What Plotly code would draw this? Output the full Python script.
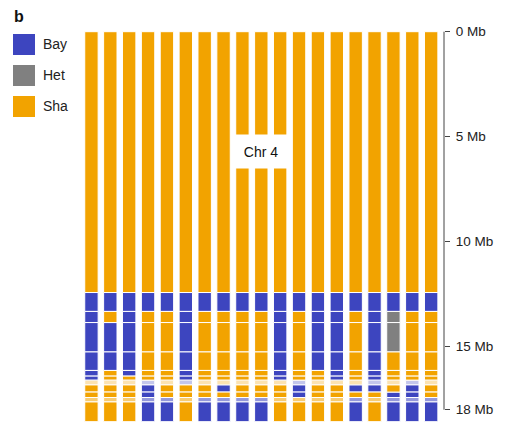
import plotly.graph_objects as go

# ---- data ----
lines = [f"L{i+1}" for i in range(19)]           # 19 individual lines (columns)
boundaries_mb = [0, 12.42, 13.32, 13.85, 15.25, 16.13, 16.40, 16.59, 16.82, 17.16, 17.42, 17.63, 18.57]
# genotype per segment (top to bottom), one character per column: B=Bay, H=Het, S=Sha
seg_genotypes = [
    "SSSSSSSSSSSSSSSSSSS",
    "BBBBBBBBBBBBBBBBBBB",
    "BSBSSBSSSSBSBBSBHSS",
    "BBBSSBSSSSBSBBSBHSS",
    "BBBSSBSSSSBSBBSBSSS",
    "BSBSSBSSSSBSSBSBSSS",
    "BSSSSBSSSSBSSBSBSSS",
    "SSSBSBSSSSSBSSSBSBS",
    "SSSBSSSBSSSBSSBBSBS",
    "SSSBSSSSSSSBSSSSBBS",
    "SSSBBSBBBBSSSSBSBBB",
    "SSSBBSBBBBSSSSBSBBB",
]
seg_opacity = [1, 1, 1, 1, 1, 1, 1, 0.3, 1, 1, 0.55, 1]
genotype_names = {"B": "Bay", "H": "Het", "S": "Sha"}
genotype_colors = {"B": "#3d45bf", "H": "#808080", "S": "#f2a300"}
tick_vals = [0, 5, 10, 15, 18]
tick_text = ["0 Mb", "5 Mb", "10 Mb", "15 Mb", "18 Mb"]
chrom_label = "Chr 4"

FONT = "Liberation Sans, Arial, Helvetica, sans-serif"
W, H = 508, 425
ML, MR, MT, MB = 82, 64, 30, 2
PW, PH = W - ML - MR, H - MT - MB


def px(xp):
    return (xp - ML) / PW


def py(yp):
    return 1 - (yp - MT) / PH


fig = go.Figure()
for g in ["B", "H", "S"]:
    xs, bases, lens, ops = [], [], [], []
    for s, gs in enumerate(seg_genotypes):
        for i, c in enumerate(gs):
            if c == g:
                xs.append(i)
                bases.append(boundaries_mb[s])
                lens.append(boundaries_mb[s + 1] - boundaries_mb[s])
                ops.append(seg_opacity[s])
    fig.add_trace(go.Bar(
        x=xs, y=lens, base=bases, name=genotype_names[g], width=0.71,
        marker=dict(color=genotype_colors[g], opacity=ops,
                    line=dict(color="white", width=1)),
        showlegend=False, hoverinfo="skip"))

shapes = []
# axis line 0 -> 18 Mb
shapes.append(dict(type="line", xref="paper", yref="y", x0=1, x1=1, y0=0, y1=18,
                   line=dict(color="#444444", width=1)))
# legend squares
leg_items = [("B", 34, 55), ("H", 65, 86), ("S", 96, 117)]
annotations = []
for g, y0, y1 in leg_items:
    shapes.append(dict(type="rect", xref="paper", yref="paper",
                       x0=px(13), x1=px(35), y0=py(y1), y1=py(y0),
                       fillcolor=genotype_colors[g], line=dict(width=0)))
    annotations.append(dict(xref="paper", yref="paper", x=px(41), y=py((y0 + y1) / 2),
                            xanchor="left", yanchor="middle", showarrow=False,
                            text=genotype_names[g], font=dict(size=14, color="#222222", family=FONT)))
annotations.append(dict(xref="paper", yref="paper", x=px(12), y=py(16), xanchor="left",
                        yanchor="middle", showarrow=False, text="<b>b</b>",
                        font=dict(size=16, color="#111111", family=FONT)))
annotations.append(dict(xref="x", yref="y", x=9, y=5.7, showarrow=False, text=chrom_label,
                        bgcolor="white", width=56, height=31,
                        font=dict(size=14, color="#111111", family=FONT)))

fig.update_layout(
    width=W, height=H, margin=dict(l=ML, r=MR, t=MT, b=MB, autoexpand=False),
    paper_bgcolor="white", plot_bgcolor="white", barmode="overlay",
    font=dict(family=FONT, size=13.5, color="#222222"),
    shapes=shapes, annotations=annotations, showlegend=False,
    xaxis=dict(visible=False, range=[-0.5, 18.68], fixedrange=True, automargin=False),
    yaxis=dict(range=[18.633, -0.081], side="right", showgrid=False, zeroline=False,
               showline=False, ticks="outside", ticklen=5, tickwidth=1, tickcolor="#444444",
               tickvals=tick_vals, ticktext=tick_text, ticklabelstandoff=3, automargin=False,
               tickfont=dict(size=13.5, color="#222222", family=FONT), fixedrange=True),
)

fig.write_html("out.html", config={"displayModeBar": False},
               post_script="document.body.style.margin='0';document.body.style.overflow='hidden';")
